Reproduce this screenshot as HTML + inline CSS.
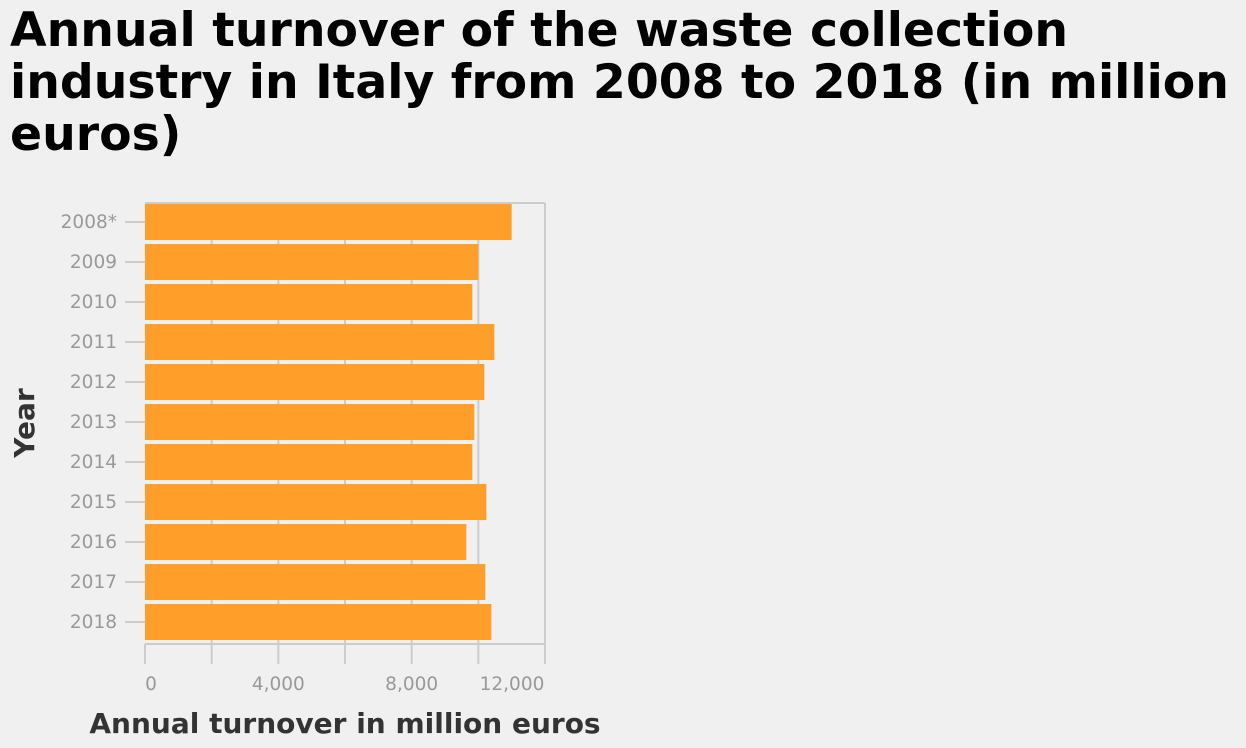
<!DOCTYPE html>
<html><head><meta charset="utf-8"><style>
body{margin:0;background:#f0f0f0;font-family:"DejaVu Sans","Liberation Sans",sans-serif;}
#title{position:absolute;left:10px;top:5px;font-size:47.3px;font-weight:bold;line-height:52px;color:#000;width:1236px;}
</style></head><body>
<div id="title">Annual turnover of the waste collection industry in Italy from 2008 to 2018 (in million euros)</div>
<svg id="chart" width="1246" height="748" style="position:absolute;left:0;top:0"></svg>
<script>
const categories=["2008*","2009","2010","2011","2012","2013","2014","2015","2016","2017","2018"];
const values=[11000,10000,9820,10480,10180,9880,9820,10240,9640,10210,10390];
const xTicks=[0,4000,8000,12000];
const xTickLabels=["0","4,000","8,000","12,000"];
const gridVals=[2000,4000,6000,8000,10000,12000];
const svg=document.getElementById('chart');
const NS='http://www.w3.org/2000/svg';
const x0=145,x1=545,yTop=203,band=40,xMax=12000;
const X=v=>x0+v/xMax*(x1-x0);
const Y=i=>yTop+i*band;
function mk(t,a){const e=document.createElementNS(NS,t);for(const k in a)e.setAttribute(k,a[k]);svg.appendChild(e);return e;}
const yBot=Y(categories.length)+1;
gridVals.forEach(v=>{const l=mk('line',{x1:X(v),x2:X(v),y1:yTop,y2:yBot,stroke:'#ccc','stroke-width':2});

});
const tb=mk('line',{x1:x0,x2:x1,y1:yTop,y2:yTop,stroke:'#ccc','stroke-width':2});


categories.forEach((c,i)=>{
const r=mk('rect',{x:x0,y:Y(i)+1,width:X(values[i])-x0,height:36,fill:'#ff9f29'});


const tk=mk('line',{x1:125,x2:x0,y1:Y(i)+19,y2:Y(i)+19,stroke:'#ccc','stroke-width':2});


const t=mk('text',{x:117,y:Y(i)+25,'text-anchor':'end','font-size':18.5,fill:'#999'});
t.textContent=c;


});
const ax=mk('line',{x1:x0,x2:x1,y1:yBot,y2:yBot,stroke:'#ccc','stroke-width':2});


gridVals.concat([0]).forEach(v=>{const l=mk('line',{x1:X(v),x2:X(v),y1:yBot,y2:yBot+20,stroke:'#ccc','stroke-width':2});

});
xTicks.forEach((v,i)=>{
const t=mk('text',{x:v===0?X(v)+6:(v===xMax?X(v)-33:X(v)),y:690,'text-anchor':'middle','font-size':18.5,fill:'#999'});
t.textContent=xTickLabels[i];


});
const xt=mk('text',{x:345,y:733,'text-anchor':'middle','font-size':28,'font-weight':'bold',fill:'#333'});
xt.textContent='Annual turnover in million euros';


const yt=mk('text',{x:34,y:423,'text-anchor':'middle','font-size':28,'font-weight':'bold',fill:'#333',transform:'rotate(-90 34 423)'});
yt.textContent='Year';


</script>
</body></html>
